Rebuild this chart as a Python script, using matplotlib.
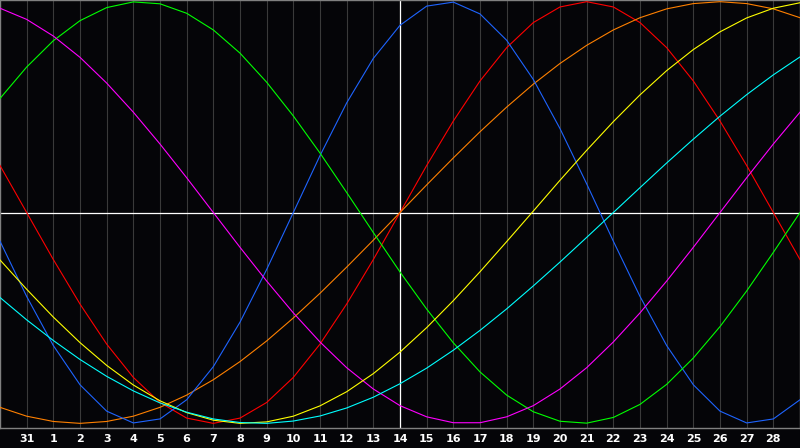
import numpy as np
import matplotlib
matplotlib.use('Agg')
import matplotlib.pyplot as plt

# day labels under the grid lines (grid line 1 = the 31st, line 15 = today, the 14th)
DAY_LABELS = ['31'] + [str(d) for d in range(1, 29)]
TODAY = 15

# cycle values, one per day line 0..30
physical = [-0.136, -0.398, -0.631, -0.817, -0.942, -0.998, -0.979, -0.888, -0.731, -0.520,
            -0.270, 0.000, 0.270, 0.520, 0.731, 0.888, 0.979, 0.998, 0.942, 0.817,
            0.631, 0.398, 0.136, -0.136, -0.398, -0.631, -0.817, -0.942, -0.998, -0.979,
            -0.888]
emotional = [0.223, 0.000, -0.223, -0.434, -0.624, -0.782, -0.901, -0.975, -1.000, -0.975,
             -0.901, -0.782, -0.624, -0.434, -0.223, 0.000, 0.223, 0.434, 0.624, 0.782,
             0.901, 0.975, 1.000, 0.975, 0.901, 0.782, 0.624, 0.434, 0.223, 0.000,
             -0.223]
intellectual = [0.541, 0.690, 0.815, 0.910, 0.972, 0.999, 0.990, 0.945, 0.866, 0.756,
                0.618, 0.458, 0.282, 0.095, -0.095, -0.282, -0.458, -0.618, -0.756, -0.866,
                -0.945, -0.990, -0.999, -0.972, -0.910, -0.815, -0.690, -0.541, -0.372, -0.189,
                0.000]
intuitive = [0.969, 0.916, 0.837, 0.736, 0.614, 0.476, 0.325, 0.165, 0.000, -0.165,
             -0.325, -0.476, -0.614, -0.736, -0.837, -0.916, -0.969, -0.997, -0.997, -0.969,
             -0.916, -0.837, -0.736, -0.614, -0.476, -0.325, -0.165, 0.000, 0.165, 0.325,
             0.476]
aesthetic = [-0.225, -0.364, -0.496, -0.617, -0.725, -0.818, -0.893, -0.949, -0.985, -1.000,
             -0.993, -0.966, -0.917, -0.850, -0.764, -0.662, -0.546, -0.418, -0.281, -0.138,
             0.007, 0.153, 0.295, 0.431, 0.558, 0.673, 0.773, 0.857, 0.923, 0.969,
             0.995]
awareness = [-0.924, -0.966, -0.991, -1.000, -0.991, -0.966, -0.924, -0.866, -0.793, -0.707,
             -0.609, -0.500, -0.383, -0.259, -0.131, 0.000, 0.131, 0.259, 0.383, 0.500,
             0.609, 0.707, 0.793, 0.866, 0.924, 0.966, 0.991, 1.000, 0.991, 0.966,
             0.924]
spiritual = [-0.403, -0.509, -0.607, -0.697, -0.777, -0.846, -0.903, -0.947, -0.979, -0.996,
             -1.000, -0.989, -0.965, -0.927, -0.876, -0.812, -0.738, -0.653, -0.559, -0.457,
             -0.348, -0.235, -0.118, 0.000, 0.118, 0.235, 0.348, 0.457, 0.559, 0.653,
             0.738]

# drawing order matters a little where the curves overlap at the bottom
CYCLES = [
    (emotional, '#ff0000'),
    (awareness, '#ff8000'),
    (physical, '#1e64ff'),
    (intellectual, '#00ff00'),
    (intuitive, '#ff00ff'),
    (aesthetic, '#ffff00'),
    (spiritual, '#00ffff'),
]

BG = '#050508'


def main():
    fig = plt.figure(figsize=(8, 4.48), dpi=100, facecolor=BG)
    ax = fig.add_axes([0, 20 / 448, 1, 428 / 448], facecolor=BG)

    days = np.arange(len(physical))
    for vals, color in CYCLES:
        ax.plot(days, vals, color=color, lw=0.8, solid_joinstyle='round', zorder=3)

    grid_pos = np.arange(1, len(DAY_LABELS) + 1)
    for x in grid_pos:
        ax.axvline(x, color='#3a3a3a', lw=0.8, zorder=1)
    ax.axhline(0, color='white', lw=0.9, zorder=2)
    ax.axvline(TODAY, color='white', lw=0.9, zorder=2)

    ax.set_xlim(0, 30)
    ax.set_ylim(-1.022, 1.008)
    ax.set_xticks(grid_pos)
    ax.set_xticklabels(DAY_LABELS, color='white', fontsize=8, fontweight='bold',
                       family='DejaVu Sans')
    ax.tick_params(axis='x', length=0, pad=4.5)
    ax.set_yticks([])
    for s in ax.spines.values():
        s.set_color('#808080')
        s.set_linewidth(1.0)

    fig.savefig('out.png', dpi=100, facecolor=BG)


if __name__ == '__main__':
    main()
